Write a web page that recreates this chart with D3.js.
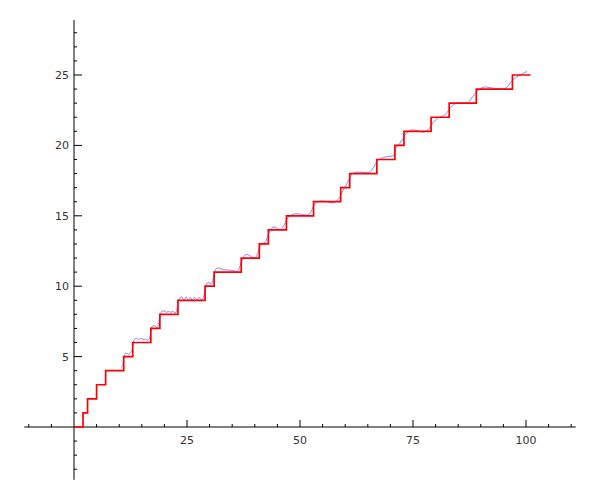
<!DOCTYPE html>
<html>
<head>
<meta charset="utf-8">
<script src="https://cdn.jsdelivr.net/npm/d3@7/dist/d3.min.js"></script>
<style>
html,body{margin:0;padding:0;background:#fff;}
svg{display:block;}
</style>
</head>
<body>
<svg id="chart" width="600" height="500"></svg>
<script>
// Step function: prime counting values
const stepX = [0,2,3,5,7,11,13,17,19,23,29,31,37,41,43,47,53,59,61,67,71,73,79,83,89,97];
const stepY = [0,1,2,3,4,5,6,7,8,9,10,11,12,13,14,15,16,17,18,19,20,21,22,23,24,25];
const stepEnd = 101;

// Smooth approximation
const smoothX = [10.4,10.8,11.0,11.3,11.7,12.0,12.4,12.8,13.0,13.3,13.8,14.3,14.8,15.3,15.8,16.3,16.8,17.0,17.3,17.8,18.3,18.7,19.0,19.4,19.9,20.4,20.9,21.4,21.9,22.4,22.8,23.0,23.4,23.8,24.3,24.8,25.3,25.8,26.2,26.7,27.2,27.7,28.2,28.7,29.0,29.4,29.9,30.3,30.7,31.0,31.5,32.0,33,34,35,36,36.6,37.0,37.5,38.3,39.2,40.0,40.6,41.0,41.6,42.3,42.8,43.3,44.0,44.5,45.6,46.4,47.0,47.6,48.4,49.3,50.3,51.5,52.3,53.0,53.6,54.9,56.0,57.3,58.2,58.8,59.5,60.4,61.0,61.6,62.5,63.5,65.0,66.2,67.0,67.8,69.2,70.6,71.2,72.0,72.8,73.5,74.8,76,77,78.3,79.4,80.5,82,82.8,83.8,85,87,88,89.2,91,92.5,94.7,95.8,97.1,98.7,100.2];
const smoothY = [4.25,4.4,4.8,5.2,5.25,5.15,5.25,5.4,5.8,6.2,6.3,6.2,6.3,6.2,6.25,6.15,6.4,6.8,7.15,7.2,7.05,7.3,7.8,8.2,8.25,8.15,8.2,8.15,8.2,8.1,8.4,8.8,9.15,9.25,9.0,9.25,9.0,9.2,9.0,9.2,9.05,9.2,9.05,9.3,9.8,10.2,10.25,10.15,10.4,10.9,11.25,11.3,11.18,11.15,11.12,11.05,11.3,11.7,12.1,12.25,12.1,12.0,12.3,12.7,13.0,13.1,13.5,13.9,14.2,14.2,14.0,14.3,14.7,14.95,15.1,15.15,15.1,15.05,15.2,15.7,15.95,16.05,16.0,15.9,16.1,16.3,16.8,17.3,17.7,18.0,18.1,18.1,18.05,18.4,18.85,19.05,19.2,19.25,19.8,20.1,20.5,20.85,21.1,21.05,20.95,21.1,21.6,21.95,22.16,22.45,22.85,23.0,23.0,23.37,23.85,24.15,24.08,24.0,24.15,24.65,25.0,25.25];

const xMajor = [25,50,75,100];
const yMajor = [5,10,15,20,25];

const svg = d3.select("#chart");
const x = d3.scaleLinear().domain([0,100]).range([74,526]);
const y = d3.scaleLinear().domain([0,25]).range([427,75]);
const xDom = [-11, 111];
const yDom = [-3.75, 28.9];

// axes lines
svg.append("line").attr("x1",x(xDom[0])).attr("x2",x(xDom[1])).attr("y1",y(0)).attr("y2",y(0))
  .attr("stroke","#000").attr("stroke-width",1);
svg.append("line").attr("x1",x(0)).attr("x2",x(0)).attr("y1",y(yDom[0])).attr("y2",y(yDom[1]))
  .attr("stroke","#000").attr("stroke-width",1);

// x ticks
const xMinor = d3.range(-10, 111, 5).filter(v => v !== 0 && !xMajor.includes(v));
svg.selectAll(".xmin").data(xMinor).enter().append("line")
  .attr("x1",d=>x(d)).attr("x2",d=>x(d)).attr("y1",y(0)).attr("y2",y(0)-3)
  .attr("stroke","#000").attr("stroke-width",1);
svg.selectAll(".xmaj").data(xMajor).enter().append("line")
  .attr("x1",d=>x(d)).attr("x2",d=>x(d)).attr("y1",y(0)).attr("y2",y(0)-7)
  .attr("stroke","#000").attr("stroke-width",1);
svg.selectAll(".xlab").data(xMajor).enter().append("text")
  .attr("x",d=>x(d)).attr("y",y(0)+17).attr("text-anchor","middle")
  .attr("font-family","DejaVu Sans").attr("font-size",11).attr("fill","#333")
  .text(d=>d);

// y ticks
const yMinor = d3.range(-3, 29, 1).filter(v => v !== 0 && !yMajor.includes(v));
svg.selectAll(".ymin").data(yMinor).enter().append("line")
  .attr("x1",x(0)).attr("x2",x(0)+3).attr("y1",d=>y(d)).attr("y2",d=>y(d))
  .attr("stroke","#000").attr("stroke-width",1);
svg.selectAll(".ymaj").data(yMajor).enter().append("line")
  .attr("x1",x(0)).attr("x2",x(0)+8).attr("y1",d=>y(d)).attr("y2",d=>y(d))
  .attr("stroke","#000").attr("stroke-width",1);
svg.selectAll(".ylab").data(yMajor).enter().append("text")
  .attr("x",x(0)-5).attr("y",d=>y(d)+4).attr("text-anchor","end")
  .attr("font-family","DejaVu Sans").attr("font-size",11).attr("fill","#333")
  .text(d=>d);

// smooth curve
const smooth = smoothX.map((v,i)=>[v, smoothY[i]]);
svg.append("path").datum(smooth)
  .attr("d", d3.line().x(d=>x(d[0])).y(d=>y(d[1])).curve(d3.curveMonotoneX))
  .attr("fill","none").attr("stroke","#6666ff").attr("stroke-opacity",0.8).attr("stroke-width",1);

// step function
const steps = stepX.map((v,i)=>[v, stepY[i]]).concat([[stepEnd, stepY[stepY.length-1]]]);
svg.append("path").datum(steps)
  .attr("d", d3.line().x(d=>x(d[0])).y(d=>y(d[1])).curve(d3.curveStepAfter))
  .attr("fill","none").attr("stroke","#ff0000").attr("stroke-width",1.7);
</script>
</body>
</html>
